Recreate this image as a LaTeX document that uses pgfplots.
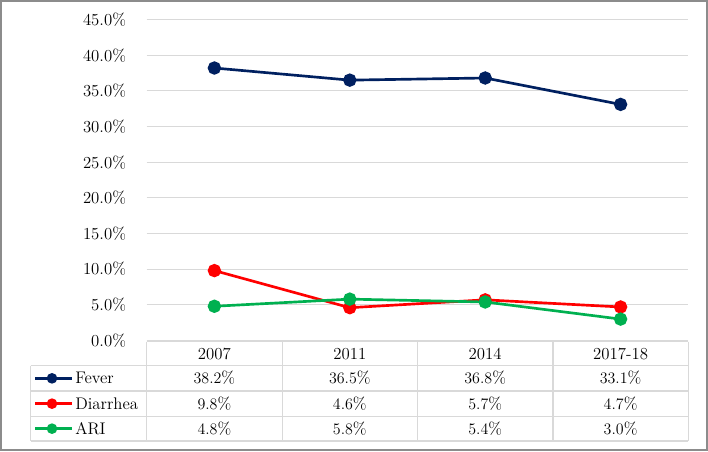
\documentclass[border=0pt]{standalone}
\usepackage{pgfplots}
\usepackage{pgfplotstable}
\pgfplotsset{compat=1.18}

\definecolor{fevercol}{HTML}{002060}
\definecolor{diarcol}{HTML}{FF0000}
\definecolor{aricol}{HTML}{00B050}
\definecolor{gridcol}{HTML}{D9D9D9}
\definecolor{framecol}{HTML}{8C8C8C}

% prevalence (%) by survey round
\pgfplotstableread{
x year fever diarrhea ari
0 2007 38.2 9.8 4.8
1 2011 36.5 4.6 5.8
2 2014 36.8 5.7 5.4
3 2017-18 33.1 4.7 3.0
}\datatable

\newcommand{\tabfont}{\fontsize{12.6pt}{15pt}\selectfont}

\begin{document}
\begin{tikzpicture}[x=0.75pt,y=0.75pt]
\useasboundingbox (0,0) rectangle (708,451);
\draw[framecol,line width=1.1pt] (1,1) rectangle (707,450);

\begin{axis}[
  at={(110.025pt,82.875pt)}, anchor=south west,
  scale only axis, width=406.2pt, height=240.75pt,
  xmin=-0.5, xmax=3.5, ymin=0, ymax=45,
  ytick={0,5,...,45},
  xtick=\empty,
  axis line style={draw=none},
  major tick length=0pt,
  ymajorgrids, grid style={gridcol,line width=0.9pt},
  yticklabel={\pgfmathprintnumber[fixed,fixed zerofill,precision=1]{\tick}\%},
  yticklabel style={font=\tabfont,xshift=-12pt},
  /pgf/number format/assume math mode=true,
  clip=false,
]
\addplot[fevercol,line width=2pt,mark=*,mark size=4pt] table[x=x,y=fever]{\datatable};
\addplot[diarcol,line width=2pt,mark=*,mark size=4pt] table[x=x,y=diarrhea]{\datatable};
\addplot[aricol,line width=2pt,mark=*,mark size=4pt] table[x=x,y=ari]{\datatable};
\end{axis}

% data table grid
\begin{scope}[gridcol,line width=0.9pt]
  \draw (146.7,109.3) -- (688.3,109.3);
  \foreach \y in {85.3,60,34.7,10} \draw (30.7,\y) -- (688.3,\y);
  \draw (30.7,85.3) -- (30.7,10);
  \foreach \x in {146.7,282.1,417.5,552.9,688.3} \draw (\x,109.3) -- (\x,10);
\end{scope}

% legend keys and series names
\foreach \col/\name/\yc in {fevercol/Fever/72.65,diarcol/Diarrhea/47.35,aricol/ARI/22.35}{
  \draw[\col,line width=2pt] (35,\yc) -- (72,\yc);
  \fill[\col] (52,\yc) circle (4pt);
  \node[anchor=base west,inner sep=0pt,font=\tabfont] at (75,\yc-5.4) {\name};
}

% header and values
\foreach \i in {0,...,3}{
  \pgfmathsetmacro{\cx}{214.4+135.4*\i}
  \pgfplotstablegetelem{\i}{year}\of\datatable
  \node[anchor=base,inner sep=0pt,font=\tabfont] at (\cx,97.3-5.4) {\pgfplotsretval};
  \pgfplotstablegetelem{\i}{fever}\of\datatable
  \node[anchor=base,inner sep=0pt,font=\tabfont] at (\cx,72.65-5.4) {\pgfmathprintnumber[fixed,fixed zerofill,precision=1]{\pgfplotsretval}\%};
  \pgfplotstablegetelem{\i}{diarrhea}\of\datatable
  \node[anchor=base,inner sep=0pt,font=\tabfont] at (\cx,47.35-5.4) {\pgfmathprintnumber[fixed,fixed zerofill,precision=1]{\pgfplotsretval}\%};
  \pgfplotstablegetelem{\i}{ari}\of\datatable
  \node[anchor=base,inner sep=0pt,font=\tabfont] at (\cx,22.35-5.4) {\pgfmathprintnumber[fixed,fixed zerofill,precision=1]{\pgfplotsretval}\%};
}
\end{tikzpicture}
\end{document}
